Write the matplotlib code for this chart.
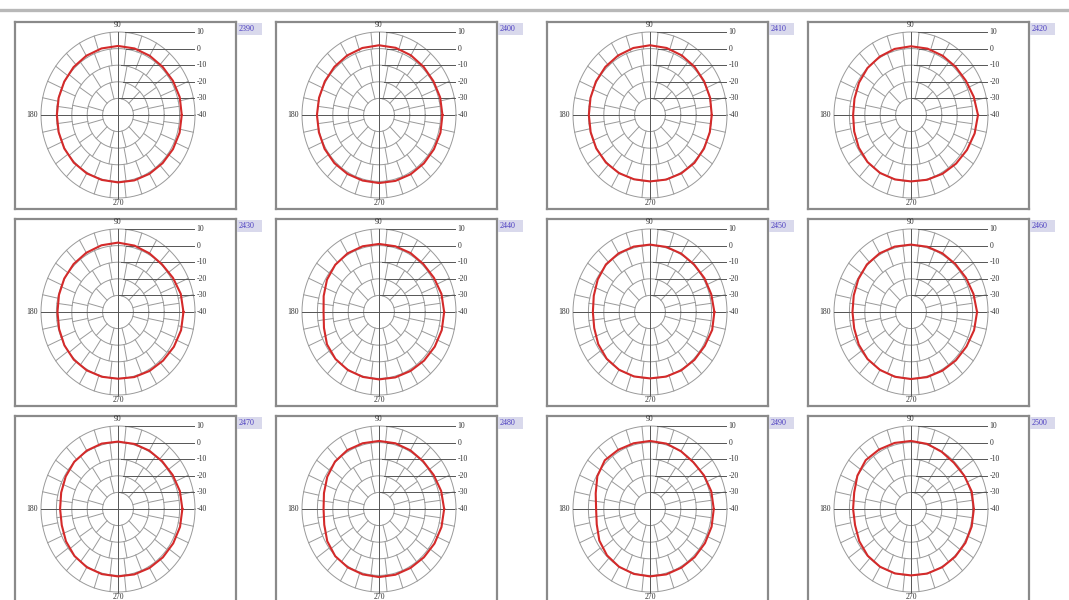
import numpy as np
import matplotlib
matplotlib.use("Agg")
import matplotlib.pyplot as plt
from matplotlib.lines import Line2D
from matplotlib.patches import Rectangle

# ---------------- data ----------------
freqs = ["2390", "2400", "2410", "2420", "2430", "2440",
         "2450", "2460", "2470", "2480", "2490", "2500"]
angles_deg = list(range(0, 360, 15))

gain_2390 = [1.4, 1.5, 1.2, 1.0, 1.2, 1.5, 1.6, 1.5, 1.2, 0.8, 0.3, -0.1,
             -0.3, -0.1, 0.3, 0.6, 0.6, 0.5, 0.6, 0.8, 0.9, 1.0, 1.2, 1.4]
gain_2400 = [1.2, 1.1, 0.8, 1.0, 1.5, 1.9, 2.0, 1.8, 1.4, 1.0, 0.6, 0.3,
             0.3, 0.4, 0.8, 1.0, 1.0, 0.9, 1.0, 1.1, 1.2, 1.2, 1.2, 1.3]
gain_2410 = [0.1, 0.4, 0.6, 1.0, 1.4, 1.8, 2.0, 1.8, 1.4, 1.0, 0.5, 0.0,
             -0.3, -0.1, 0.3, 0.5, 0.4, 0.1, 0.0, 0.3, 0.6, 0.8, 0.5, 0.2]
gain_2420 = [3.5, 2.2, 1.2, 1.0, 1.2, 1.4, 1.4, 1.2, 0.6, 0.0, -1.0, -2.0,
             -2.4, -1.8, -0.8, 0.0, 0.3, 0.2, 0.0, 0.4, 0.9, 1.4, 2.0, 2.8]
gain_2430 = [2.5, 2.2, 1.2, 0.5, 0.8, 1.4, 1.8, 1.6, 1.2, 0.8, 0.3, -0.3,
             -0.7, -0.4, 0.2, 0.6, 0.6, 0.4, 0.2, 0.6, 1.0, 1.4, 1.9, 2.4]
gain_2440 = [2.3, 2.0, 1.2, 0.8, 1.0, 1.0, 1.0, 1.0, 0.8, 0.2, -1.0, -2.8,
             -4.0, -3.0, -1.0, 0.0, 0.4, 0.5, 0.6, 0.8, 1.0, 1.4, 1.8, 2.2]
gain_2450 = [1.8, 1.2, 0.8, 0.5, 0.6, 0.6, 0.6, 0.8, 0.8, 0.5, -0.8, -2.2,
             -2.9, -2.5, -1.2, -0.2, 0.2, 0.2, 0.0, 0.3, 0.6, 0.8, 1.0, 1.8]
gain_2460 = [2.9, 2.0, 1.2, 0.8, 0.8, 0.7, 0.6, 0.8, 0.8, 0.5, -0.5, -1.5,
             -2.0, -1.8, -0.8, 0.0, 0.3, 0.4, 0.4, 0.6, 0.8, 1.2, 1.6, 2.4]
gain_2470 = [1.8, 1.6, 1.0, 0.6, 0.6, 0.6, 0.6, 0.8, 0.6, 0.2, -0.8, -1.8,
             -2.4, -2.2, -1.0, 0.0, 0.5, 0.6, 0.6, 0.8, 1.0, 1.2, 1.4, 1.7]
gain_2480 = [2.3, 1.8, 1.0, 0.6, 0.8, 1.0, 1.0, 1.0, 1.0, 0.4, -1.2, -3.0,
             -4.0, -3.2, -1.2, 0.2, 0.6, 0.8, 1.0, 1.0, 1.0, 1.2, 1.6, 2.0]
gain_2490 = [1.4, 1.2, 0.5, -0.2, 0.2, 0.8, 1.0, 1.0, 1.2, 1.5, -0.5, -3.5,
             -5.0, -4.2, -2.0, -0.5, 0.2, 0.5, 0.6, 0.8, 0.8, 1.0, 1.2, 1.4]
gain_2500 = [0.8, 0.8, 0.0, -0.6, -0.2, 0.6, 1.0, 1.2, 1.4, 1.6, 0.2, -1.8,
             -2.4, -2.4, -1.2, -0.2, 0.2, 0.2, 0.0, 0.3, 0.5, 0.6, 0.8, 0.8]

gains = [gain_2390, gain_2400, gain_2410, gain_2420, gain_2430, gain_2440,
         gain_2450, gain_2460, gain_2470, gain_2480, gain_2490, gain_2500]

ring_db = [-30, -20, -10, 0, 10]
radial_labels = ["10", "0", "-10", "-20", "-30", "-40"]
radial_label_db = [10, 0, -10, -20, -30, -40]
angle_labels = ["90", "180", "270"]
DB_MIN = -40

# ---------------- layout ----------------
W, H = 1069, 600
fig = plt.figure(figsize=(W / 100, H / 100), dpi=100)
fig.patch.set_facecolor("white")

# top separator bar
fig.add_artist(Line2D([0, 1], [1 - 10 / H] * 2, color="#b8b8b8", lw=2.4,
                      transform=fig.transFigure))

SX, SY = 1.54, 1.66          # pixels per dB unit (horizontal, vertical)
BOX_W, BOX_H = 221, 187
CX_OFF, CY_OFF = 103, 93
col_left = [15, 276, 547, 808]
row_top = [22, 219, 416]

FONT = dict(family="Liberation Serif", size=5.6, color="#333333")
GRID = "#9a9a9a"
AXC = "#555555"

band_steps = [30, 22.5, 15, 12]
band_offsets = [15, 11.25, 7.5, 0]

theta = np.linspace(0, 2 * np.pi, 361)

for i, (freq, g) in enumerate(zip(freqs, gains)):
    row, col = divmod(i, 4)
    left, top = col_left[col], row_top[row]
    ax = fig.add_axes([left / W, 1 - (top + BOX_H) / H, BOX_W / W, BOX_H / H])
    ax.set_xlim(-CX_OFF / SX, (BOX_W - CX_OFF) / SX)
    ax.set_ylim(-(BOX_H - CY_OFF) / SY, CY_OFF / SY)
    ax.set_xticks([]); ax.set_yticks([])
    for sp in ax.spines.values():
        sp.set_color("#8a8a8a"); sp.set_linewidth(1.6)

    # rings
    for db in ring_db:
        r = db - DB_MIN
        ax.plot(r * np.cos(theta), r * np.sin(theta), color=GRID, lw=0.7)
    # brick-pattern spokes
    for b, (step, off) in enumerate(zip(band_steps, band_offsets)):
        r0, r1 = ring_db[b] - DB_MIN, ring_db[b + 1] - DB_MIN
        for a in np.arange(off, 360, step):
            t = np.deg2rad(a)
            ax.plot([r0 * np.cos(t), r1 * np.cos(t)],
                    [r0 * np.sin(t), r1 * np.sin(t)], color=GRID, lw=0.7)
    rmax = ring_db[-1] - DB_MIN
    # cross axes
    ax.plot([0, 0], [-rmax, rmax], color=AXC, lw=0.7)
    ax.plot([-rmax, rmax - 1.5], [0, 0], color=AXC, lw=0.7)
    # radial scale lines + labels
    starts = [4.3, 5.4, 2.2, 3.3, 0.5]
    for lab, db, x0 in zip(radial_labels[:-1], radial_label_db[:-1], starts):
        y = db - DB_MIN
        ax.plot([x0, 49.5], [y, y], color=AXC, lw=0.7)
    for lab, db in zip(radial_labels, radial_label_db):
        ax.text(51.0, db - DB_MIN, lab, ha="left", va="center", **FONT)
    ax.text(0, 54.0, angle_labels[0], ha="center", va="center", **FONT)
    ax.text(-55.5, 0, angle_labels[1], ha="center", va="center", **FONT)
    ax.text(0, -53.0, angle_labels[2], ha="center", va="center", **FONT)

    # measured pattern
    a = np.deg2rad(np.array(angles_deg + [angles_deg[0] + 360]))
    r = np.array(g + [g[0]]) - DB_MIN
    ax.plot(r * np.cos(a), r * np.sin(a), color="#d42a2a", lw=1.5,
            solid_joinstyle="round")

    # frequency tag
    fig.add_artist(Rectangle(((left + BOX_W + 1) / W, 1 - (top + 13) / H),
                             25 / W, 12 / H, transform=fig.transFigure,
                             facecolor="#d9d9ec", edgecolor="none"))
    fig.text((left + BOX_W + 3) / W, 1 - (top + 7) / H, freq,
             ha="left", va="center", family="Liberation Serif", size=5.8,
             color="#4a3cc0")

fig.savefig("out.png", dpi=100)
